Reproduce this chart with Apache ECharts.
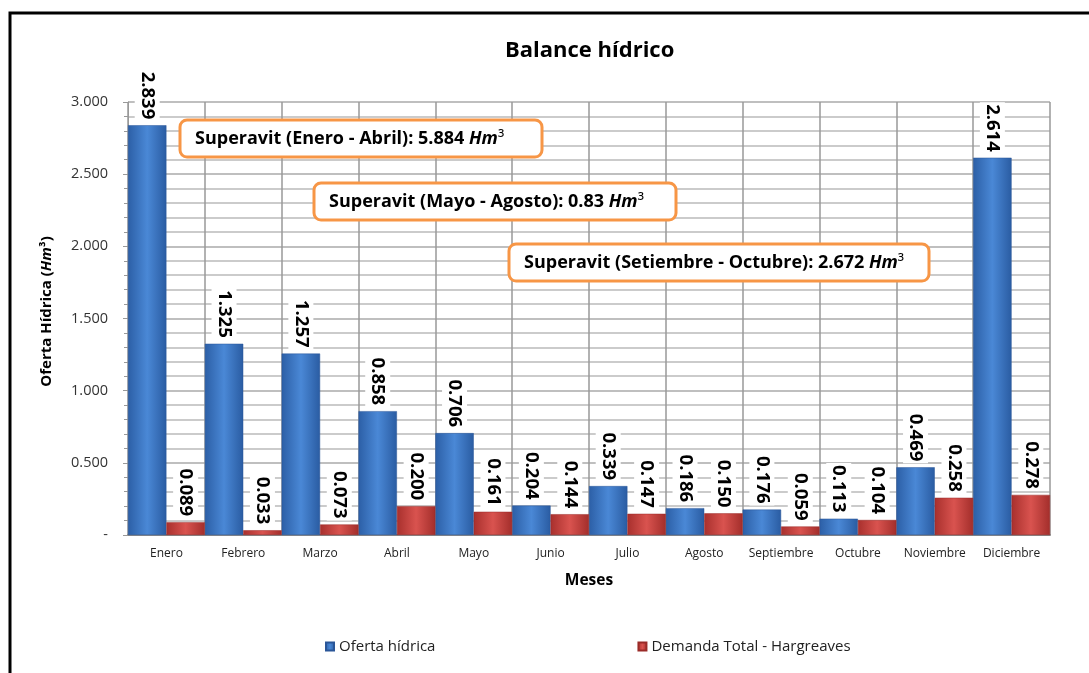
<!DOCTYPE html>
<html lang="es">
<head>
<meta charset="utf-8">
<script src="https://cdn.jsdelivr.net/npm/echarts@6/dist/echarts.min.js"></script>
<style>
  html, body { margin: 0; padding: 0; background: #fff; }
  #main { width: 1089px; height: 673px; }
</style>
</head>
<body>
<div id="main"></div>
<script>
// datos del balance
var meses = ['Enero', 'Febrero', 'Marzo', 'Abril', 'Mayo', 'Junio', 'Julio', 'Agosto', 'Septiembre', 'Octubre', 'Noviembre', 'Diciembre'];
var oferta = [2.839, 1.325, 1.257, 0.858, 0.706, 0.204, 0.339, 0.186, 0.176, 0.113, 0.469, 2.614];
var demanda = [0.089, 0.033, 0.073, 0.200, 0.161, 0.144, 0.147, 0.150, 0.059, 0.104, 0.258, 0.278];
var notas = [
    ['Superavit (Enero - Abril): 5.884 ', 180, 120, 362],
    ['Superavit (Mayo - Agosto): 0.83 ', 314, 183, 362],
    ['Superavit (Setiembre - Octubre): 2.672 ', 509, 244, 420]
];

var fuente = '"Open Sans", "Noto Sans", sans-serif';

function grad(c1, c2, c3) {
    return {
        type: 'linear', x: 0, y: 0, x2: 1, y2: 0,
        colorStops: [
            { offset: 0, color: c1 },
            { offset: 0.5, color: c2 },
            { offset: 1, color: c3 }
        ]
    };
}

var etiqueta = {
    show: true,
    position: 'top',
    rotate: -90,
    align: 'right',
    verticalAlign: 'middle',
    distance: 4,
    fontFamily: fuente,
    fontWeight: 'bold',
    fontSize: 18.5,
    color: '#000',
    backgroundColor: '#fff',
    padding: [3, 2, 3, 2],
    formatter: function (p) { return p.value.toFixed(3); }
};

// marco y cuadros de superavit
var graficos = [{
    type: 'rect',
    shape: { x: 10, y: 13, width: 1200, height: 800 },
    style: { fill: 'none', stroke: '#000', lineWidth: 3 },
    silent: true
}];
notas.forEach(function (n) {
    graficos.push({
        type: 'rect',
        shape: { x: n[1], y: n[2], width: n[3], height: 37, r: 7 },
        style: { fill: '#fff', stroke: '#f79646', lineWidth: 3 },
        z: 100
    });
    graficos.push({
        type: 'text',
        x: n[1] + 15,
        y: n[2] + 7,
        style: {
            text: '{b|' + n[0] + '}{i|Hm}{s|³}',
            rich: {
                b: { fontFamily: fuente, fontWeight: 'bold', fontSize: 18, fill: '#000', lineHeight: 24 },
                i: { fontFamily: fuente, fontWeight: 'bold', fontStyle: 'italic', fontSize: 18, fill: '#000', lineHeight: 24 },
                s: { fontFamily: fuente, fontSize: 18, fill: '#000', lineHeight: 24 }
            }
        },
        z: 101
    });
});

var chart = echarts.init(document.getElementById('main'));
chart.setOption({
    animation: false,
    title: {
        text: 'Balance hídrico',
        left: 500,
        top: 35,
        textStyle: { fontFamily: fuente, fontWeight: 'bold', fontSize: 22, color: '#000' }
    },
    legend: {
        bottom: 14,
        left: 320,
        itemGap: 202,
        itemWidth: 8,
        itemHeight: 8,
        icon: 'rect',
        textStyle: { fontFamily: fuente, fontSize: 15, color: '#222' },
        data: ['Oferta hídrica', 'Demanda Total - Hargreaves']
    },
    grid: { left: 128, right: 39, top: 102, bottom: 138 },
    xAxis: {
        type: 'category',
        data: meses,
        name: 'Meses',
        nameLocation: 'middle',
        nameGap: 38,
        nameTextStyle: { fontFamily: fuente, fontWeight: 'bold', fontSize: 15.5, color: '#000' },
        axisLine: { lineStyle: { color: '#888', width: 2 } },
        axisTick: { show: false },
        axisLabel: { fontFamily: fuente, fontSize: 12, color: '#222', margin: 13, interval: 0 },
        splitLine: { show: true, interval: 0, lineStyle: { color: '#999', width: 1.5 } }
    },
    yAxis: {
        type: 'value',
        min: 0,
        max: 3,
        interval: 0.5,
        name: '{b|Oferta Hídrica (}{i|Hm}{b|³)}',
        nameLocation: 'middle',
        nameGap: 74,
        nameTextStyle: {
            padding: [0, 0, 0, 14],
            rich: {
                b: { fontFamily: fuente, fontWeight: 'bold', fontSize: 15, color: '#000' },
                i: { fontFamily: fuente, fontWeight: 'bold', fontStyle: 'italic', fontSize: 15, color: '#000' }
            }
        },
        axisLine: { show: true, lineStyle: { color: '#999' } },
        axisTick: { show: true, length: 5, lineStyle: { color: '#999' } },
        minorTick: { show: true, splitNumber: 5, length: 4, lineStyle: { color: '#999' } },
        axisLabel: {
            fontFamily: fuente, fontSize: 14.5, color: '#333', margin: 20,
            formatter: function (v) { return v === 0 ? '-' : v.toFixed(3); }
        },
        splitLine: { lineStyle: { color: '#aaa', width: 1.5 } },
        minorSplitLine: { show: true, lineStyle: { color: '#bbb', width: 1.5 } }
    },
    series: [{
        name: 'Oferta hídrica',
        type: 'bar',
        data: oferta,
        barGap: '0%',
        barCategoryGap: '0%',
        itemStyle: { color: grad('#2c5fa6', '#4a88d6', '#2a5ca2'), borderColor: '#2a5698', borderWidth: 0.5 },
        label: etiqueta
    }, {
        name: 'Demanda Total - Hargreaves',
        type: 'bar',
        data: demanda,
        itemStyle: { color: grad('#a8302d', '#d9534f', '#a32e2b'), borderColor: '#9a2b28', borderWidth: 0.5 },
        label: etiqueta
    }],
    graphic: graficos
});
</script>
</body>
</html>
